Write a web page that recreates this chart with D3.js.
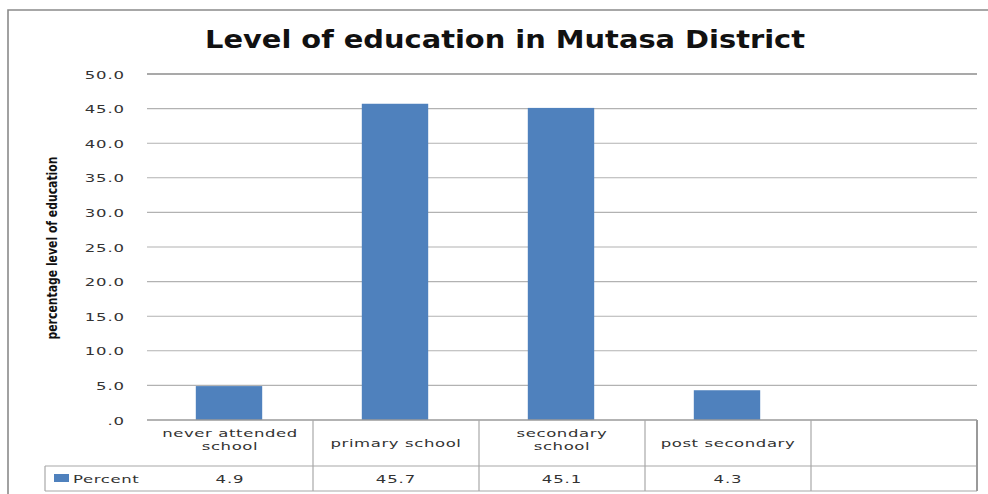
<!DOCTYPE html>
<html>
<head>
<meta charset="utf-8">
<script src="https://cdn.jsdelivr.net/npm/d3@7"></script>
<style>
  html, body { margin: 0; padding: 0; background: #fff; }
  svg { display: block; }
  text { font-family: "DejaVu Sans", Verdana, sans-serif; }
</style>
</head>
<body>
<svg id="chart" width="988" height="494"></svg>
<script>
// Education levels in Mutasa District (percent of respondents)
const categories = ["never attended school", "primary school", "secondary school", "post secondary", ""];
const headerLines = [["never attended", "school"], ["primary school"], ["secondary", "school"], ["post secondary"], []];
const percent = [4.9, 45.7, 45.1, 4.3, null];
const seriesName = "Percent";
const yTicks = [0, 5, 10, 15, 20, 25, 30, 35, 40, 45, 50];
const titleText = "Level of education in Mutasa District";
const yLabel = "percentage level of education";

const W = 988, H = 494;
const plot = { left: 147, right: 977, top: 74, bottom: 420 };
const table = { legendLeft: 45, headerBottom: 466, bottom: 491 };
const stretch = 1.5;            // wide, horizontally-stretched table/axis lettering
const barColor = "#4f81bd";
const textColor = "#333333";

const svg = d3.select("#chart");

// outer chart frame (left and top edges)
svg.append("path")
  .attr("d", `M8,${H} V10 H${W}`)
  .attr("fill", "none").attr("stroke", "#8a8a8a").attr("stroke-width", 1.6);

const x = d3.scaleBand().domain(categories).range([plot.left, plot.right]).padding(0);
const y = d3.scaleLinear().domain([0, 50]).range([plot.bottom, plot.top]);
const fmt = v => v === 0 ? ".0" : d3.format(".1f")(v);

// gridlines
svg.append("g").selectAll("line").data(yTicks.filter(t => t > 0)).join("line")
  .attr("x1", plot.left).attr("x2", plot.right)
  .attr("y1", d => y(d)).attr("y2", d => y(d))
  .attr("stroke", d => d === 50 ? "#8c8c8c" : "#b2b2b2")
  .attr("stroke-width", d => d === 50 ? 1.5 : 1.1);

// y axis tick labels via d3.axisLeft, then restyled
const yAxis = svg.append("g")
  .attr("transform", `translate(${plot.left},0)`)
  .call(d3.axisLeft(y).tickValues(yTicks).tickFormat(fmt).tickSize(0).tickPadding(0));
yAxis.select(".domain").remove();
yAxis.selectAll(".tick text")
  .attr("x", null).attr("dy", null)
  .attr("font-family", "DejaVu Sans, Verdana, sans-serif")
  .attr("font-size", 11).attr("fill", textColor)
  .attr("text-anchor", "end")
  .attr("letter-spacing", 0.6)
  .attr("transform", `translate(${125 - plot.left},4) scale(${stretch},1)`);

// bars
const barW = x.bandwidth() * 0.4;
svg.append("g").selectAll("rect").data(categories.map((c, i) => ({ c, v: percent[i] })).filter(d => d.v != null))
  .join("rect")
  .attr("x", d => x(d.c) + x.bandwidth() / 2 - barW / 2 - 1)
  .attr("width", barW)
  .attr("y", d => y(d.v))
  .attr("height", d => y(0) - y(d.v))
  .attr("fill", barColor);

// title
svg.append("text")
  .attr("x", 505).attr("y", 48)
  .attr("text-anchor", "middle")
  .attr("font-family", "Lato, 'Open Sans', sans-serif")
  .attr("font-weight", "bold").attr("font-size", 24)
  .attr("textLength", 600).attr("lengthAdjust", "spacingAndGlyphs")
  .attr("fill", "#111")
  .text(titleText);

// y axis title
svg.append("text")
  .attr("transform", "translate(57,248) rotate(-90)")
  .attr("text-anchor", "middle")
  .attr("font-family", "'Liberation Sans Narrow', 'Liberation Sans', sans-serif")
  .attr("font-weight", "bold").attr("font-size", 14.5)
  .attr("textLength", 183).attr("lengthAdjust", "spacingAndGlyphs")
  .attr("fill", "#111")
  .text(yLabel);

// data table
const tg = svg.append("g");
const gridStroke = "#a8a8a8";
const hline = (x1, x2, yy, col, w) => tg.append("line").attr("x1", x1).attr("x2", x2).attr("y1", yy).attr("y2", yy)
  .attr("stroke", col).attr("stroke-width", w);
const vline = (xx, y1, y2, col, w) => tg.append("line").attr("x1", xx).attr("x2", xx).attr("y1", y1).attr("y2", y2)
  .attr("stroke", col).attr("stroke-width", w);

hline(plot.left, plot.right, plot.bottom, "#9a9a9a", 1.4);
hline(table.legendLeft, plot.right, table.headerBottom, gridStroke, 1.2);
hline(table.legendLeft, plot.right, table.bottom, gridStroke, 1.2);
vline(table.legendLeft, table.headerBottom, table.bottom, gridStroke, 1.2);
categories.slice(1).forEach(c => vline(x(c), plot.bottom, table.bottom, gridStroke, 1.2));
vline(plot.right, plot.bottom, table.bottom, "#9a9a9a", 2);

// header cells and value row
categories.forEach((c, i) => {
  const lines = headerLines[i];
  const cx = x(c) + x.bandwidth() / 2;
  const baselines = lines.length === 2 ? [437, 450] : [447];
  lines.forEach((ln, j) => {
    tg.append("text")
      .attr("transform", `translate(${cx},${baselines[j]}) scale(${stretch},1)`)
      .attr("text-anchor", "middle").attr("font-size", 11).attr("fill", textColor)
      .attr("letter-spacing", 0.4)
      .text(ln);
  });
  if (percent[i] != null) {
    tg.append("text")
      .attr("transform", `translate(${cx},483) scale(${stretch},1)`)
      .attr("text-anchor", "middle").attr("font-size", 11).attr("fill", textColor)
      .attr("letter-spacing", 0.6)
      .text(d3.format(".1f")(percent[i]));
  }
});

// legend key in the table
tg.append("rect").attr("x", 54).attr("y", 474).attr("width", 15).attr("height", 8).attr("fill", barColor);
tg.append("text")
  .attr("transform", `translate(73,482.5) scale(${stretch},1)`)
  .attr("font-size", 11).attr("fill", textColor)
  .attr("letter-spacing", 0.4)
  .text(seriesName);
</script>
</body>
</html>
